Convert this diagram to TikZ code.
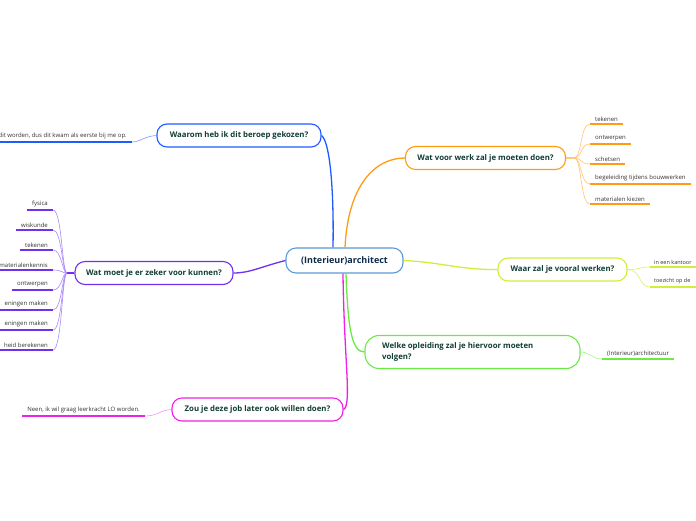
\documentclass[tikz,border=0pt]{standalone}
\usepackage{fontspec}
\setmainfont{Open Sans}
\definecolor{txt}{HTML}{103D34}
\definecolor{ctxt}{HTML}{0E2A4A}
\definecolor{leaft}{HTML}{333333}
\definecolor{cblue}{HTML}{5B9BD5}
\definecolor{bblue}{HTML}{1F5BFF}
\definecolor{borange}{HTML}{FF9C14}
\definecolor{blime}{HTML}{CFF03A}
\definecolor{bgreen}{HTML}{6AEA45}
\definecolor{bmag}{HTML}{EE22E6}
\definecolor{bpurp}{HTML}{7030F0}
\definecolor{tpurp}{HTML}{A98AF8}
\begin{document}
\begin{tikzpicture}[x=1pt,y=-1pt,
  branch/.style={draw, rounded corners=10pt, line width=1.1pt, fill=white, minimum height=23pt,
    text=txt, font=\fontsize{7.8}{9.5}\selectfont\bfseries, inner sep=0pt},
  leaf/.style={font=\fontsize{6}{7}\selectfont, text=leaft, inner xsep=5pt, inner ysep=2.6pt},
  ul/.style={line width=1.6pt},
  twig/.style={line width=0.6pt},
  conn/.style={line width=1.3pt}]
\useasboundingbox (0,0) rectangle (696,520);
\fill[white] (0,0) rectangle (696,520);
\clip (0,0) rectangle (696,520);

% center
\node[draw=cblue, rounded corners=10pt, line width=1.1pt, fill=white, minimum width=117pt, minimum height=25pt,
  text=ctxt, font=\fontsize{9}{11}\selectfont\bfseries, inner sep=0pt] (c) at (344.5,260.5) {(Interieur)architect};

% branches
\node[branch, draw=bblue, minimum width=164pt] (b1) at (239,135.5) {Waarom heb ik dit beroep gekozen?};
\node[branch, draw=borange, minimum width=160pt] (b2) at (485.5,158) {Wat voor werk zal je moeten doen?};
\node[branch, draw=blime, minimum width=129pt] (b3) at (562.5,269.5) {Waar zal je vooral werken?};
\node[branch, draw=bgreen, minimum width=215pt, minimum height=33pt, rounded corners=14pt] (b4) at (472.5,352) {};
\node[anchor=west, text=txt, font=\fontsize{7.8}{10.5}\selectfont\bfseries, align=left, inner sep=0pt] (b4t) at (382,352)
  {Welke opleiding zal je hiervoor moeten\\volgen?};
\node[branch, draw=bmag, minimum width=171pt] (b5) at (257.5,409.5) {Zou je deze job later ook willen doen?};
\node[branch, draw=bpurp, minimum width=158pt] (b6) at (154,273) {Wat moet je er zeker voor kunnen?};

% main connectors
\draw[conn, bblue] (c.north -| 333,0) .. controls (334,190) and (330,142) .. (b1.east);
\draw[conn, borange] (c.north -| 345,0) .. controls (348,185) and (375,158) .. (b2.west);
\draw[conn, blime] (c.east) .. controls (440,262) and (460,270) .. (b3.west);
\draw[conn, bgreen] (c.south -| 346,0) .. controls (348,330) and (352,352) .. (b4.west);
\draw[conn, bmag] (c.south -| 343,0) .. controls (344,360) and (352,405) .. (b5.east);
\draw[conn, bpurp] (c.west) .. controls (260,267) and (250,273) .. (b6.east);

% blue leaf
\node[leaf, anchor=south east] (l1) at (132,142) {dit worden, dus dit kwam als eerste bij me op.};
\draw[ul, bblue] (l1.south west) -- (l1.south east);
\draw[twig, bblue!60] (b1.west) .. controls (145,136) and (140,142) .. (l1.south east);

% orange leaves
\foreach \n/\y/\t in {o1/124/tekenen, o2/144/ontwerpen, o3/164/schetsen, o4/184/begeleiding tijdens bouwwerken, o5/204/materialen kiezen}{
  \node[leaf, anchor=south west] (\n) at (590,\y) {\t};
  \draw[ul, borange] (\n.south west) -- (\n.south east);
  \draw[twig, borange!60] (b2.east) -- ++(8,0) .. controls +(8,0) and +(-10,0) .. (\n.south west);
}

% lime leaves
\foreach \n/\y/\t in {y1/267/in een kantoor, y2/287/toezicht op de}{
  \node[leaf, anchor=south west, font=\fontsize{5.5}{6.5}\selectfont, inner xsep=4pt] (\n) at (650,\y) {\t};
  \draw[ul, blime] (\n.south west) -- (698,\y);
  \draw[twig, blime!80] (b3.east) .. controls +(14,0) and +(-12,0) .. (\n.south west);
}

% green leaf
\node[leaf, anchor=south west] (g1) at (602,359) {(Interieur)architectuur};
\draw[ul, bgreen] (g1.south west) -- (g1.south east);
\draw[twig, bgreen!60] (b4.east) .. controls (590,352) and (592,359) .. (g1.south west);

% magenta leaf
\node[leaf, anchor=south east] (m1) at (145,416) {Neen, ik wil graag leerkracht LO worden.};
\draw[ul, bmag] (m1.south west) -- (m1.south east);
\draw[twig, bmag!50] (b5.west) .. controls (160,410) and (158,416) .. (m1.south east);

% purple leaves
\coordinate (hub) at (67,273);
\draw[line width=1.1pt, bpurp] (b6.west) -- (hub);
\foreach \n/\y/\t in {p1/210/fysica, p2/230/wiskunde, p3/250/tekenen, p4/270/materialenkennis, p5/290/ontwerpen, p6/310/eningen maken, p7/330/eningen maken, p8/350/heid berekenen}{
  \node[leaf, anchor=south east] (\n) at (53,\y) {\t};
  \draw[ul, bpurp] (\n.south west) -- (\n.south east);
  \draw[twig, tpurp] (hub) .. controls (62,273) and (62,\y) .. (\n.south east);
}
\end{tikzpicture}
\end{document}
